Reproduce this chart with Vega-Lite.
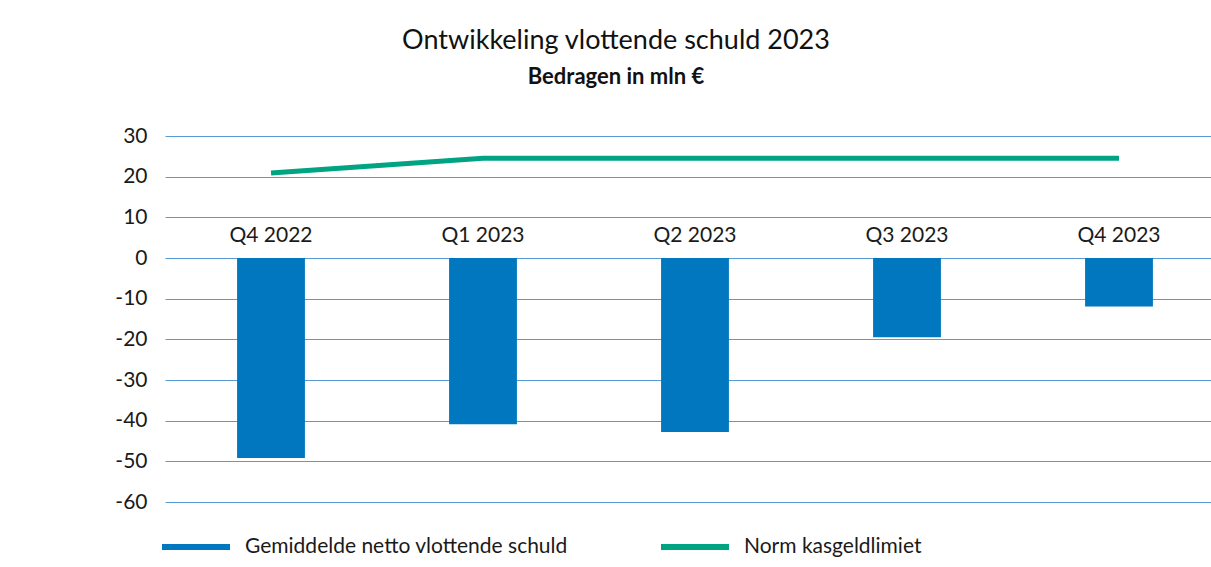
{
  "$schema": "https://vega.github.io/schema/vega-lite/v6.json",
  "autosize": "none",
  "width": 1046,
  "height": 366,
  "padding": {"left": 165, "top": 136, "right": 0, "bottom": 65},
  "background": "white",
  "title": {
    "text": "Ontwikkeling vlottende schuld 2023",
    "subtitle": "Bedragen in mln €",
    "anchor": "middle",
    "dx": -72,
    "offset": 36,
    "font": "Lato",
    "fontSize": 27,
    "fontWeight": "normal",
    "color": "#111",
    "subtitleFont": "Lato",
    "subtitleFontSize": 22,
    "subtitleFontWeight": "bold",
    "subtitleColor": "#111",
    "subtitlePadding": 12
  },
  "config": {
    "view": {"stroke": null},
    "font": "Lato"
  },
  "data": {
    "values": [
      {"kwartaal": "Q4 2022", "schuld": -49.2, "norm": 20.9},
      {"kwartaal": "Q1 2023", "schuld": -40.9, "norm": 24.5},
      {"kwartaal": "Q2 2023", "schuld": -42.8, "norm": 24.5},
      {"kwartaal": "Q3 2023", "schuld": -19.5, "norm": 24.5},
      {"kwartaal": "Q4 2023", "schuld": -11.9, "norm": 24.5}
    ]
  },
  "encoding": {
    "x": {
      "field": "kwartaal",
      "type": "nominal",
      "sort": null,
      "scale": {"range": [0, 1060], "paddingInner": 0.68, "paddingOuter": 0.34},
      "axis": null
    }
  },
  "layer": [
    {
      "mark": {"type": "bar", "color": "#0077BE"},
      "encoding": {
        "y": {
          "field": "schuld",
          "type": "quantitative",
          "scale": {"domain": [-60, 30], "nice": false},
          "axis": {
            "title": null,
            "values": [-60, -50, -40, -30, -20, -10, 0, 10, 20, 30],
            "labelExpr": "'' + datum.value",
            "domain": false,
            "ticks": false,
            "labelFontSize": 21,
            "labelColor": "#1a1a1a",
            "labelPadding": 18,
            "gridColor": "#5B9BD5",
            "gridWidth": 1.2,
            "gridOpacity": 1
          }
        },
        "color": {
          "datum": "Gemiddelde netto vlottende schuld",
          "type": "nominal",
          "scale": {
            "domain": ["Gemiddelde netto vlottende schuld", "Norm kasgeldlimiet"],
            "range": ["#0077BE", "#00A482"]
          },
          "legend": {
            "title": null,
            "orient": "none",
            "legendX": -6,
            "legendY": 374,
            "direction": "horizontal",
            "symbolType": "stroke",
            "symbolSize": 4624,
            "symbolStrokeWidth": 6,
            "labelFontSize": 21,
            "labelColor": "#1a1a1a",
            "labelOffset": 12,
            "labelLimit": 500,
            "columnPadding": 81
          }
        }
      }
    },
    {
      "mark": {"type": "line", "strokeWidth": 5},
      "encoding": {
        "y": {"field": "norm", "type": "quantitative"},
        "color": {"datum": "Norm kasgeldlimiet", "type": "nominal"}
      }
    },
    {
      "mark": {"type": "text", "baseline": "middle", "dy": -22, "fontSize": 21, "color": "#1a1a1a"},
      "encoding": {
        "y": {"datum": 0, "type": "quantitative"},
        "text": {"field": "kwartaal"}
      }
    }
  ]
}
